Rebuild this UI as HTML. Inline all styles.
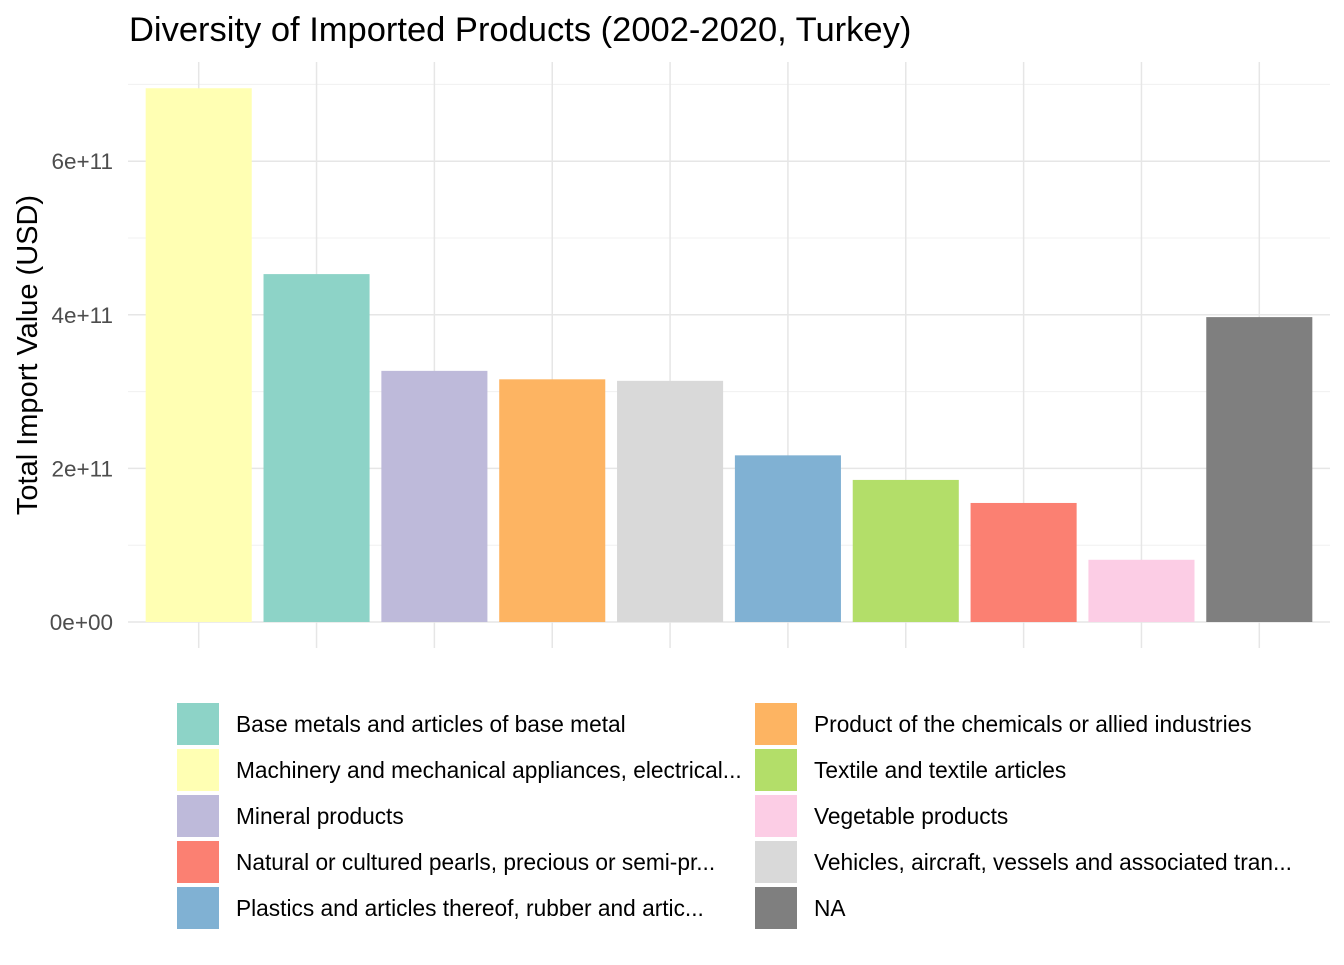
<!DOCTYPE html>
<html><head><meta charset="utf-8">
<style>
body{margin:0;background:#fff;font-family:"Liberation Sans",Arial,sans-serif;}
svg text{font-family:"Liberation Sans",Arial,sans-serif;}
</style></head>
<body>
<svg id="chart" width="1344" height="960" xmlns="http://www.w3.org/2000/svg">
<text x="129" y="41" font-size="34.5" fill="#000">Diversity of Imported Products (2002-2020, Turkey)</text>
<text transform="translate(37,355) rotate(-90)" text-anchor="middle" font-size="29" fill="#000">Total Import Value (USD)</text>
<g id="grid"></g><g id="bars"></g><g id="yticks"></g><g id="legend"></g>
</svg>
<script>
const categories=["Machinery","Base metals","Mineral","Chemicals","Vehicles","Plastics","Textile","Pearls","Vegetable","NA"];
const values=[6.95e11,4.53e11,3.27e11,3.16e11,3.14e11,2.17e11,1.85e11,1.55e11,0.81e11,3.97e11];
const colors=["#FFFFB3","#8DD3C7","#BEBADA","#FDB462","#D9D9D9","#80B1D3","#B3DE69","#FB8072","#FCCDE5","#7F7F7F"];
const tickValues=[0,2e11,4e11,6e11];
const tickLabels=["0e+00","2e+11","4e+11","6e+11"];
const legendLabels=["Base metals and articles of base metal","Machinery and mechanical appliances, electrical...","Mineral products","Natural or cultured pearls, precious or semi-pr...","Plastics and articles thereof, rubber and artic...","Product of the chemicals or allied industries","Textile and textile articles","Vegetable products","Vehicles, aircraft, vessels and associated tran...","NA"];
const legendColors=["#8DD3C7","#FFFFB3","#BEBADA","#FB8072","#80B1D3","#FDB462","#B3DE69","#FCCDE5","#D9D9D9","#7F7F7F"];
const NS="http://www.w3.org/2000/svg";
const pl=128,pr=1330,pt=62,pb=648;
const y0=622,yk=76.8/1e11;
const y=v=>y0-v*yk;
const step=(pr-pl)/(categories.length+0.2);
const x=i=>pl+step*(0.6+i);
const bw=step*0.9;
function mk(t,a,p){const e=document.createElementNS(NS,t);for(const k in a)e.setAttribute(k,a[k]);p.appendChild(e);return e;}
const grid=document.getElementById('grid');
for(let v=1e11;v<=7e11;v+=2e11){const l=mk('line',{x1:pl,x2:pr,y1:y(v),y2:y(v),stroke:'#f0f0f0','stroke-width':1},grid);

}
tickValues.forEach(v=>{const l=mk('line',{x1:pl,x2:pr,y1:y(v),y2:y(v),stroke:'#e6e6e6','stroke-width':1.5},grid);

});
categories.forEach((c,i)=>{const l=mk('line',{x1:x(i),x2:x(i),y1:pt,y2:pb,stroke:'#e6e6e6','stroke-width':1.5},grid);

});
const bars=document.getElementById('bars');
values.forEach((v,i)=>{const r=mk('rect',{x:x(i)-bw/2,y:y(v),width:bw,height:y0-y(v),fill:colors[i]},bars);

});
const yt=document.getElementById('yticks');
tickValues.forEach((v,i)=>{const t=mk('text',{x:113,y:y(v)+8,'text-anchor':'end','font-size':22.5,fill:'#4d4d4d'},yt);t.textContent=tickLabels[i];

});
const lg=document.getElementById('legend');
legendLabels.forEach((lab,i)=>{const col=Math.floor(i/5),row=i%5;
const sx=col?755:177,tx=col?814:236,sy=703+row*46;
const g=mk('g',{},lg);


mk('rect',{x:sx,y:sy,width:42,height:42,fill:legendColors[i]},g);
const t=mk('text',{x:tx,y:sy+29,'font-size':22.7,fill:'#000'},g);t.textContent=lab;});
</script>
</body></html>
